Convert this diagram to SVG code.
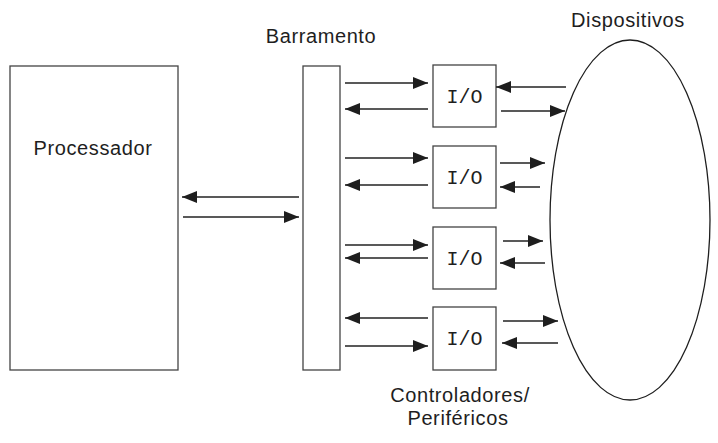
<svg xmlns="http://www.w3.org/2000/svg" width="718" height="443" viewBox="0 0 718 443">
<style>
.box{fill:#fff;stroke:#444;stroke-width:1.3}
.lbl{font-family:"Liberation Sans",Arial,sans-serif;font-size:20px;letter-spacing:0.6px;fill:#1e1e1e;text-anchor:middle}
.io{font-family:"Liberation Mono","Courier New",monospace;font-size:20px;fill:#1e1e1e;text-anchor:middle}
.c{stroke:#222;stroke-width:1.3;fill:none;marker-end:url(#ah)}
</style>
<defs>
<marker id="ah" viewBox="0 0 15 12" refX="15" refY="6" markerWidth="15" markerHeight="12" markerUnits="userSpaceOnUse" orient="auto">
<path d="M0,0 L15,6 L0,12 Z" fill="#1e1e1e"/>
</marker>
</defs>
<rect width="718" height="443" fill="#fff"/>
<g id="processador">
<rect class="box" x="10" y="66" width="168" height="304"/>
<text class="lbl" x="93" y="155">Processador</text>
</g>
<g id="barramento">
<rect class="box" x="303" y="66" width="37" height="304"/>
<text class="lbl" x="321" y="43">Barramento</text>
</g>
<g id="dispositivos">
<ellipse cx="630" cy="220" rx="80" ry="180" fill="none" stroke="#1e1e1e" stroke-width="1.3"/>
<text class="lbl" x="628" y="27">Dispositivos</text>
</g>
<g id="io1"><rect class="box" x="433" y="65" width="63" height="62"/><text class="io" x="464.5" y="103">I/O</text></g>
<g id="io2"><rect class="box" x="433" y="146" width="63" height="62"/><text class="io" x="464.5" y="184">I/O</text></g>
<g id="io3"><rect class="box" x="433" y="227" width="63" height="62"/><text class="io" x="464.5" y="265">I/O</text></g>
<g id="io4"><rect class="box" x="433" y="307" width="63" height="63"/><text class="io" x="464.5" y="345">I/O</text></g>
<g id="rotulo">
<text class="lbl" x="460" y="402">Controladores/</text>
<text class="lbl" x="458" y="425">Periféricos</text>
</g>
<g id="connectors">
<line class="c" x1="299" y1="197" x2="182" y2="197"/>
<line class="c" x1="183" y1="217" x2="299" y2="217"/>
<line class="c" x1="345" y1="83" x2="428" y2="83"/>
<line class="c" x1="428" y1="109" x2="345" y2="109"/>
<line class="c" x1="345" y1="158" x2="428" y2="158"/>
<line class="c" x1="428" y1="185" x2="345" y2="185"/>
<line class="c" x1="345" y1="245" x2="428" y2="245"/>
<line class="c" x1="428" y1="258" x2="345" y2="258"/>
<line class="c" x1="428" y1="318" x2="345" y2="318"/>
<line class="c" x1="345" y1="346" x2="428" y2="346"/>
<line class="c" x1="566" y1="87" x2="496" y2="87"/>
<line class="c" x1="501" y1="111" x2="565" y2="111"/>
<line class="c" x1="500" y1="163" x2="545" y2="163"/>
<line class="c" x1="540" y1="187" x2="500" y2="187"/>
<line class="c" x1="503" y1="241" x2="543" y2="241"/>
<line class="c" x1="545" y1="263" x2="500" y2="263"/>
<line class="c" x1="503" y1="321" x2="558" y2="321"/>
<line class="c" x1="558" y1="343" x2="502" y2="343"/>
</g>
</svg>
